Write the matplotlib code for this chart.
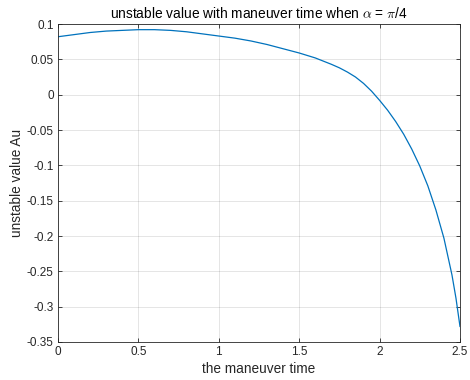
import matplotlib
matplotlib.use("Agg")
import matplotlib.pyplot as plt
from matplotlib.ticker import FuncFormatter

plt.rcParams["font.family"] = ["Liberation Sans", "DejaVu Sans"]
plt.rcParams["axes.unicode_minus"] = False
plt.rcParams["mathtext.fontset"] = "cm"

# maneuver time vs unstable value Au
t = [0, 0.1, 0.2, 0.3, 0.4, 0.5, 0.6, 0.7, 0.8, 0.9, 1.0, 1.1, 1.2, 1.3,
     1.4, 1.5, 1.6, 1.7, 1.75, 1.8, 1.85, 1.9, 1.95, 2.0, 2.05, 2.1, 2.15,
     2.2, 2.25, 2.3, 2.35, 2.4, 2.45, 2.475, 2.5]
au = [0.082, 0.085, 0.088, 0.090, 0.091, 0.092, 0.092, 0.091, 0.089, 0.086,
      0.083, 0.080, 0.076, 0.071, 0.065, 0.059, 0.052, 0.043, 0.038, 0.032,
      0.025, 0.016, 0.005, -0.008, -0.022, -0.038, -0.056, -0.077, -0.101,
      -0.129, -0.163, -0.203, -0.255, -0.288, -0.328]

xticks = [0, 0.5, 1, 1.5, 2, 2.5]
yticks = [0.1, 0.05, 0, -0.05, -0.1, -0.15, -0.2, -0.25, -0.3, -0.35]

fig = plt.figure(figsize=(4.7, 3.8), dpi=100)
ax = fig.add_axes([0.1234, 0.1, 0.8553, 0.8368])
ax.plot(t, au, color="#0072BD", linewidth=0.9)

ax.set_xlim(0, 2.5)
ax.set_ylim(-0.35, 0.1)
ax.set_xticks(xticks)
ax.set_yticks(yticks)
ax.xaxis.set_major_formatter(FuncFormatter(lambda v, p: f"{v:g}"))
ax.yaxis.set_major_formatter(FuncFormatter(lambda v, p: f"{v:g}"))
ax.grid(True, color="#000000", alpha=0.12, linewidth=0.6)
ax.tick_params(direction="in", top=True, right=True, length=3, width=0.6,
               labelsize=8.5, colors="#262626", pad=3)
for s in ax.spines.values():
    s.set_color("#262626")
    s.set_linewidth(0.6)

ax.set_xlabel("the maneuver time", fontsize=9.8, color="#262626", labelpad=3)
ax.set_ylabel("unstable value Au", fontsize=9.8, color="#262626", labelpad=2)
ax.set_title(r"unstable value with maneuver time when $\alpha$ = $\pi$/4",
             fontsize=9.9, color="#000000", pad=4)

fig.savefig("out.png", dpi=100)
